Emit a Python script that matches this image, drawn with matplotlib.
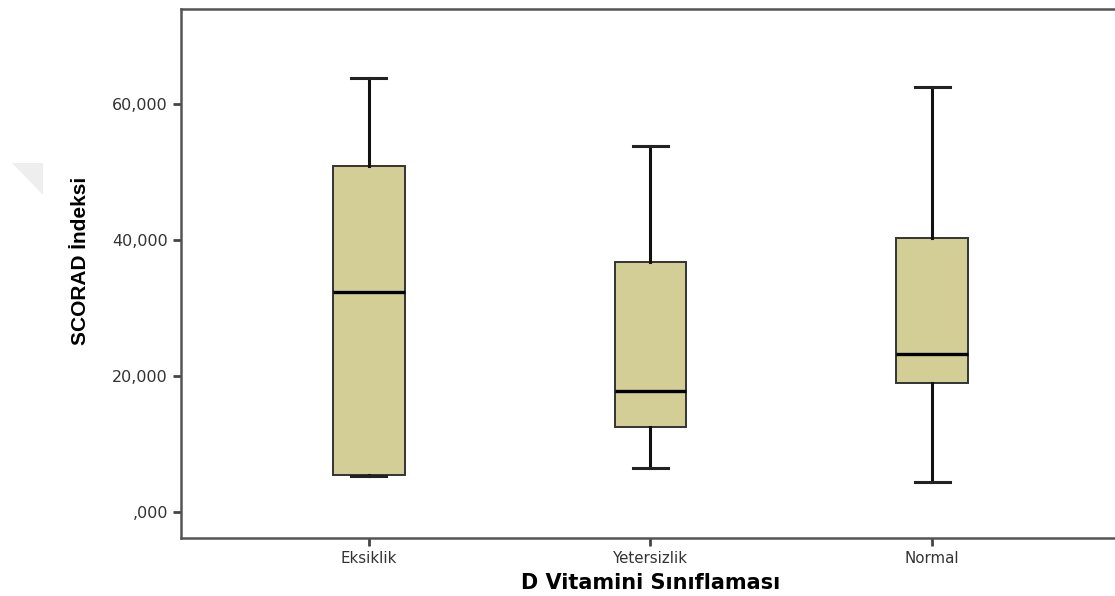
import numpy as np
import matplotlib
matplotlib.use("Agg")
from matplotlib import pyplot as plt
from matplotlib.patches import Polygon

# Veriler (SCORAD indeksi, D vitamini gruplarina gore)
gruplar = ["Eksiklik", "Yetersizlik", "Normal"]
alt_uc = [5300, 6400, 4400]
q1 = [5400, 12400, 19000]
medyan = [32400, 17800, 23200]
q3 = [50900, 36700, 40300]
ust_uc = [63900, 53800, 62500]

yticks = [0, 20000, 40000, 60000]
ytick_etiket = [",000", "20,000", "40,000", "60,000"]

plt.rcParams["font.family"] = ["Liberation Sans", "DejaVu Sans"]

fig = plt.figure(figsize=(11.15, 5.96), dpi=100)
ax = fig.add_axes([0.1623, 0.0978, 0.8422, 0.8871])

istatistik = []
for i in range(len(gruplar)):
    istatistik.append({"whislo": alt_uc[i], "q1": q1[i], "med": medyan[i],
                       "q3": q3[i], "whishi": ust_uc[i], "fliers": []})

konum = np.arange(1, len(gruplar) + 1)
ax.bxp(istatistik, positions=konum, widths=0.255, capwidths=0.125,
       patch_artist=True, showfliers=False,
       boxprops=dict(facecolor="#D3CE96", edgecolor="#333333", linewidth=1.4),
       medianprops=dict(color="black", linewidth=2.4),
       whiskerprops=dict(color="#111111", linewidth=2.2),
       capprops=dict(color="#222222", linewidth=2.2))

ax.set_xlim(1/3, 3 + 2/3)
ax.set_ylim(-3830, 74000)
ax.set_xticks(konum)
ax.set_xticklabels(gruplar, family="DejaVu Sans", fontsize=10.8)
ax.set_yticks(yticks)
ax.set_yticklabels(ytick_etiket, family="DejaVu Sans", fontsize=11.5)

ax.tick_params(direction="out", length=6, width=2, color="#444444",
               labelcolor="#333333")
for s in ax.spines.values():
    s.set_color("#555555")
    s.set_linewidth(1.8)

ax.set_xlabel("D Vitamini Sınıflaması", fontsize=15, fontweight="bold",
              family="DejaVu Sans", labelpad=5)
ax.set_ylabel("SCORAD İndeksi", fontsize=15, fontweight="bold")
ax.yaxis.set_label_coords(-0.097, 0.523)

# sol kenardaki soluk isaret
fig.patches.append(Polygon([[12/1115, 1-163/596], [43/1115, 1-163/596],
                            [43/1115, 1-195/596]], closed=True,
                           transform=fig.transFigure, facecolor="#EEEEEE",
                           edgecolor="none"))

fig.savefig("out.png", dpi=100)
